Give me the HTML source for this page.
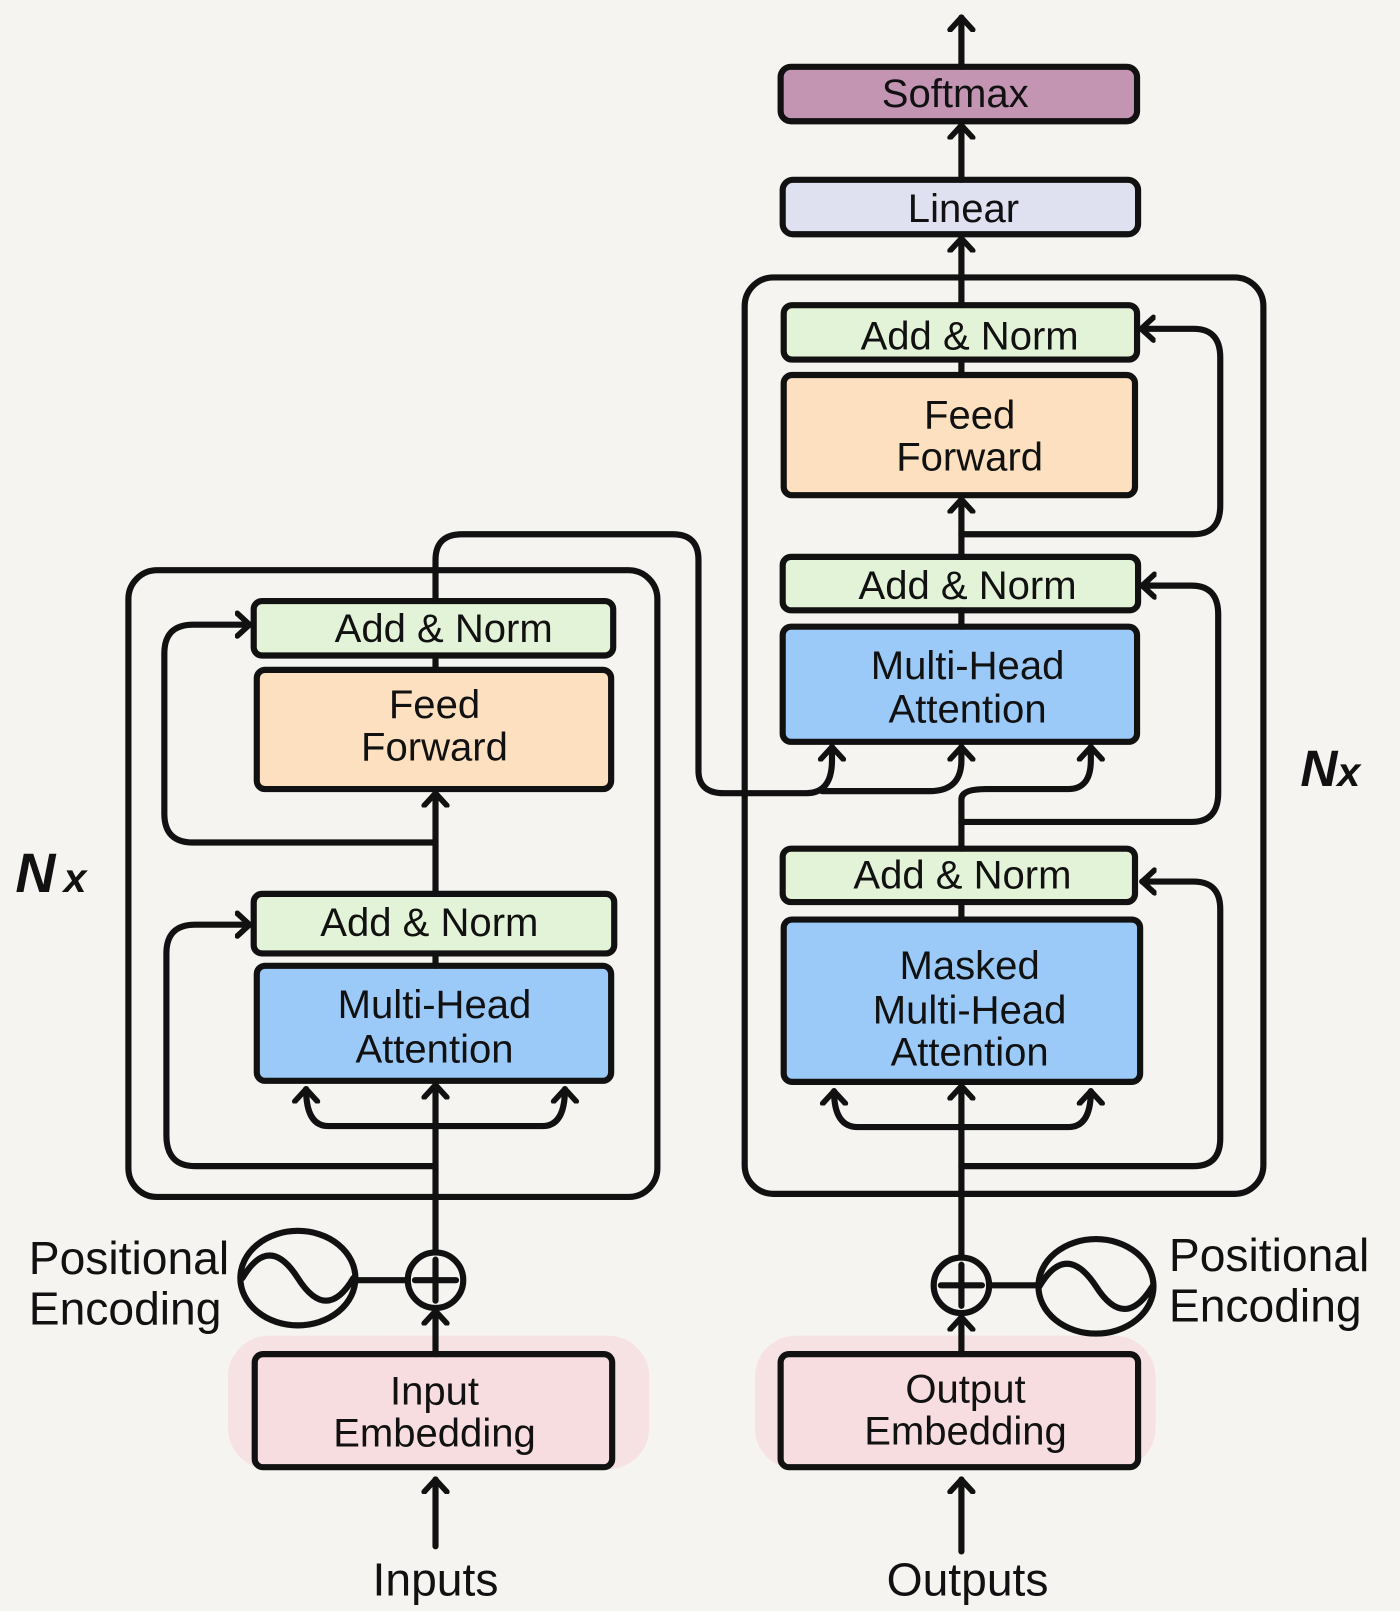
<!DOCTYPE html>
<html><head><meta charset="utf-8"><style>
html,body{margin:0;padding:0;background:#f5f4f0}
svg{display:block}
text{font-family:"Liberation Sans",sans-serif;fill:#111}
</style></head><body>
<svg width="1400" height="1611" viewBox="0 0 1363 1568" preserveAspectRatio="none" xmlns="http://www.w3.org/2000/svg">
<defs>
<marker id="a" viewBox="-14 -14 28 28" markerWidth="28" markerHeight="28" markerUnits="userSpaceOnUse" orient="auto">
<path d="M-12,-11 L0,0 L-12,11" fill="none" stroke="#111" stroke-width="5.5" stroke-linecap="round" stroke-linejoin="round"/>
</marker>
</defs>
<rect x="0" y="0" width="1363" height="1568" fill="#f5f4f0"/>
<g stroke="#111" stroke-width="6" fill="none" stroke-linecap="round" stroke-linejoin="round">
<rect x="125" y="555" width="515" height="610" rx="28"/>
<rect x="725" y="270" width="505" height="892" rx="28"/>
</g>
<rect x="222" y="1300" width="410" height="130" rx="40" fill="#f8dde0" opacity="0.8"/>
<rect x="735" y="1300" width="390" height="130" rx="40" fill="#f8dde0" opacity="0.8"/>
<g stroke="#111" stroke-width="6" stroke-linejoin="round">
<rect x="247" y="585" width="350" height="53" rx="8" fill="#e3f3d8"/>
<rect x="250" y="652" width="345" height="116" rx="8" fill="#fde0c0"/>
<rect x="247" y="870" width="351" height="58" rx="8" fill="#e3f3d8"/>
<rect x="250" y="940" width="345" height="112" rx="8" fill="#9ccaf8"/>
<rect x="248" y="1318" width="348" height="110" rx="8" fill="#f8dde0"/>
<rect x="760" y="65" width="347" height="53" rx="10" fill="#c395b3"/>
<rect x="762" y="175" width="346" height="53" rx="10" fill="#dfe0f0"/>
<rect x="763" y="297" width="344" height="53" rx="8" fill="#e3f3d8"/>
<rect x="763" y="365" width="342" height="117" rx="8" fill="#fde0c0"/>
<rect x="762" y="542" width="346" height="52" rx="8" fill="#e3f3d8"/>
<rect x="762" y="610" width="345" height="112" rx="8" fill="#9ccaf8"/>
<rect x="762" y="826" width="343" height="52" rx="8" fill="#e3f3d8"/>
<rect x="763" y="895" width="347" height="158" rx="8" fill="#9ccaf8"/>
<rect x="760" y="1318" width="348" height="110" rx="8" fill="#f8dde0"/>
</g>
<g stroke="#111" stroke-width="6" fill="none" stroke-linecap="round" stroke-linejoin="round">
<path d="M424,1505 L424,1440" marker-end="url(#a)"/>
<path d="M424,1318 L424,1276" marker-end="url(#a)"/>
<path d="M424,1219 L424,1056" marker-end="url(#a)"/>
<path d="M424,1096 L320,1096 Q298,1096 298,1060" marker-end="url(#a)"/>
<path d="M424,1096 L528,1096 Q550,1096 550,1060" marker-end="url(#a)"/>
<path d="M424,1135 L190,1135 Q162,1135 162,1105 L162,928 Q162,900 190,900 L243,900" marker-end="url(#a)"/>
<path d="M424,928 L424,940"/>
<path d="M424,870 L424,772" marker-end="url(#a)"/>
<path d="M424,820 L188,820 Q160,820 160,792 L160,636 Q160,608 188,608 L243,608" marker-end="url(#a)"/>
<path d="M424,638 L424,652"/>
<path d="M424,585 L424,545 Q424,520 450,520 L655,520 Q680,520 680,545 L680,750 Q680,772 705,772 L785,772 Q810,772 810,740 L810,727" marker-end="url(#a)"/>
<path d="M800,770 L905,770 Q936,770 936,740 L936,727" marker-end="url(#a)"/>
<path d="M936,1510 L936,1440" marker-end="url(#a)"/>
<path d="M936,1318 L936,1282" marker-end="url(#a)"/>
<path d="M936,1224 L936,1057" marker-end="url(#a)"/>
<path d="M936,1097 L835,1097 Q812,1097 812,1062" marker-end="url(#a)"/>
<path d="M936,1097 L1040,1097 Q1062,1097 1062,1062" marker-end="url(#a)"/>
<path d="M936,1135 L1162,1135 Q1188,1135 1188,1108 L1188,885 Q1188,858 1162,858 L1112,858" marker-end="url(#a)"/>
<path d="M936,878 L936,895"/>
<path d="M936,826 L936,800 L1160,800 Q1186,800 1186,772 L1186,598 Q1186,570 1160,570 L1112,570" marker-end="url(#a)"/>
<path d="M936,800 L936,778 Q936,768 960,768 L1040,768 Q1062,768 1062,740 L1062,727" marker-end="url(#a)"/>
<path d="M936,594 L936,610"/>
<path d="M936,542 L936,486" marker-end="url(#a)"/>
<path d="M936,520 L1162,520 Q1188,520 1188,492 L1188,348 Q1188,320 1162,320 L1111,320" marker-end="url(#a)"/>
<path d="M936,350 L936,365"/>
<path d="M936,297 L936,232" marker-end="url(#a)"/>
<path d="M936,175 L936,122" marker-end="url(#a)"/>
<path d="M936,65 L936,17" marker-end="url(#a)"/>
<circle cx="424" cy="1246" r="27"/>
<path d="M424,1226 L424,1266 M404,1246 L444,1246"/>
<path d="M345,1246 L397,1246"/>
<ellipse cx="290" cy="1244" rx="56" ry="46"/>
<path d="M236,1244 Q262,1200 290,1244 Q318,1288 344,1244"/>
<circle cx="936" cy="1251" r="27"/>
<path d="M936,1231 L936,1271 M916,1251 L956,1251"/>
<path d="M963,1251 L1012,1251"/>
<ellipse cx="1067" cy="1252" rx="56" ry="46"/>
<path d="M1012,1252 Q1038,1208 1067,1252 Q1095,1296 1122,1252"/>
</g>
<g font-size="39" text-anchor="middle">
<text x="432" y="625">Add &amp; Norm</text>
<text x="423" y="699">Feed</text>
<text x="423" y="740">Forward</text>
<text x="418" y="911">Add &amp; Norm</text>
<text x="423" y="991">Multi-Head</text>
<text x="423" y="1034">Attention</text>
<text x="423" y="1367">Input</text>
<text x="423" y="1408">Embedding</text>
<text x="930" y="104">Softmax</text>
<text x="938" y="216">Linear</text>
<text x="944" y="340">Add &amp; Norm</text>
<text x="944" y="417">Feed</text>
<text x="944" y="458">Forward</text>
<text x="942" y="583">Add &amp; Norm</text>
<text x="942" y="661">Multi-Head</text>
<text x="942" y="703">Attention</text>
<text x="937" y="865">Add &amp; Norm</text>
<text x="944" y="953">Masked</text>
<text x="944" y="996">Multi-Head</text>
<text x="944" y="1037">Attention</text>
<text x="940" y="1365">Output</text>
<text x="940" y="1406">Embedding</text>
</g>
<g font-size="45">
<text x="424" y="1553" text-anchor="middle">Inputs</text>
<text x="942" y="1553" text-anchor="middle">Outputs</text>
<text x="28" y="1240">Positional</text>
<text x="28" y="1289">Encoding</text>
<text x="1138" y="1237">Positional</text>
<text x="1138" y="1286">Encoding</text>
</g>
<g font-style="italic" font-weight="bold">
<text x="15" y="868" font-size="54">N</text><text x="62" y="868" font-size="40">x</text>
<text x="1266" y="765" font-size="50">N</text><text x="1302" y="765" font-size="40">x</text>
</g>
</svg>
</body></html>
